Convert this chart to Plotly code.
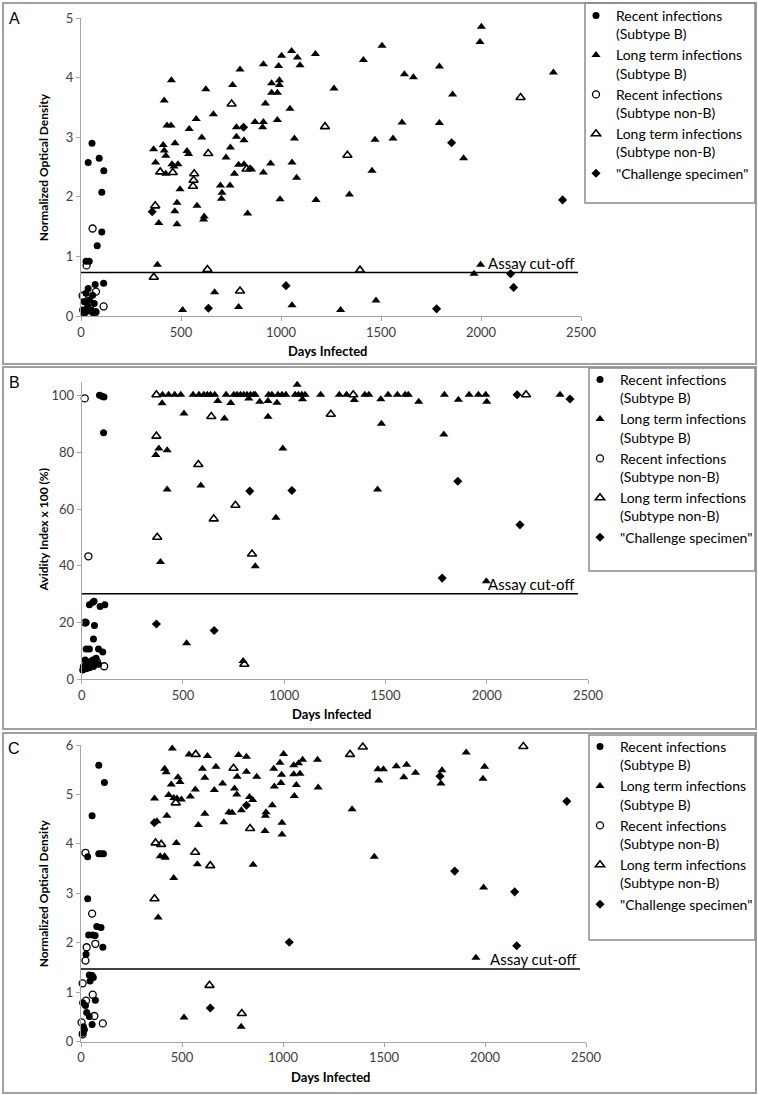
import plotly.graph_objects as go

W, H = 758, 1095

# ---------------- Panel A : Normalized Optical Density ----------------
a_recent_b_days = [55, 36, 91, 114, 104, 104, 81, 25, 41, 113, 71, 36, 25, 58, 41, 17, 66, 33, 8, 50, 25, 75, 17, 58]
a_recent_b_vals = [2.90, 2.58, 2.65, 2.44, 2.08, 1.41, 1.18, 0.92, 0.92, 0.55, 0.53, 0.46, 0.38, 0.35, 0.27, 0.24, 0.21, 0.16, 0.10, 0.10, 0.07, 0.07, 0.04, 0.06]

a_long_b_days = [452, 624, 416, 430, 450, 576, 541, 604, 363, 411, 470, 416, 424, 530, 538, 373, 455, 485, 465, 424,
                 495, 480, 580, 469, 616, 613, 389, 480, 382, 508,
                 758, 795, 912, 1003, 988, 1053, 1082, 1095, 1172, 953, 992, 992, 953, 982, 922, 1045, 1265, 662, 870, 912,
                 908, 982, 777, 777, 815, 1067, 747, 725, 788, 815, 845, 853, 948, 1055, 912, 767, 1078, 697, 745, 705,
                 702, 995, 1175, 1342, 833, 1470, 1560, 1455, 1412, 1505, 668, 788, 1055, 1298, 1475,
                 2002, 1995, 1617, 1662, 1792, 1858, 2362, 1605, 1792, 1913, 1998, 1965]
a_long_b_vals = [3.96, 3.81, 3.62, 3.20, 3.20, 3.31, 3.14, 3.00, 2.80, 2.87, 2.90, 2.78, 2.69, 2.77, 2.72, 2.58, 2.55, 2.55, 2.51, 2.39,
                 2.13, 1.90, 1.85, 1.76, 1.67, 1.62, 1.56, 1.54, 0.86, 0.10,
                 3.88, 4.14, 4.23, 4.37, 4.20, 4.45, 4.34, 4.21, 4.40, 3.91, 3.96, 3.88, 3.75, 3.75, 3.57, 3.48, 3.82, 3.39, 3.26, 3.26,
                 3.17, 3.29, 3.17, 3.01, 2.95, 2.98, 2.83, 2.66, 2.54, 2.55, 2.48, 2.46, 2.56, 2.58, 2.41, 2.39, 2.32, 2.19, 2.19, 2.07,
                 1.97, 1.96, 1.95, 2.04, 1.72, 2.96, 2.98, 2.44, 4.30, 4.54, 0.40, 0.15, 0.18, 0.10, 0.26,
                 4.86, 4.60, 4.06, 4.01, 4.19, 3.72, 4.09, 3.25, 3.24, 2.65, 0.86, 0.71]

a_recent_nb_days = [58, 28, 75, 8, 113, 71, 41, 45]
a_recent_nb_vals = [1.47, 0.85, 0.41, 0.34, 0.16, 0.06, 0.24, 0.16]

a_long_nb_days = [396, 459, 566, 563, 560, 371, 364, 632, 636, 753, 1220, 1332, 828, 1395, 795, 2198]
a_long_nb_vals = [2.42, 2.41, 2.39, 2.28, 2.18, 1.85, 0.65, 0.78, 2.73, 3.56, 3.18, 2.70, 2.47, 0.77, 0.42, 3.67]

a_chall_days = [356, 637, 813, 1025, 1853, 2408, 2148, 2163, 1778]
a_chall_vals = [1.75, 0.13, 3.17, 0.51, 2.91, 1.95, 0.71, 0.48, 0.12]

a_cutoff = 0.73

# ---------------- Panel B : Avidity Index ----------------
b_recent_b_days = [88, 100, 110, 108, 55, 61, 38, 91, 114, 22, 63, 58, 22, 38, 83, 104, 17, 33, 55, 71, 8, 25, 45, 66, 83, 5, 22, 38, 58]
b_recent_b_vals = [100.2, 99.9, 99.6, 87.0, 27.2, 27.5, 26.3, 25.7, 26.3, 20.0, 19.0, 14.2, 10.7, 10.7, 10.7, 9.6, 6.8, 6.2, 6.8, 7.4,
                   4.5, 5.1, 5.1, 5.7, 5.3, 3.3, 3.7, 4.1, 4.5]

b_long_b_days = [397, 505, 381, 422, 366, 422, 588, 389, 518,
                 399, 429, 459, 489, 550, 579, 603, 620, 636, 657,
                 713, 751, 767, 784, 800, 816, 833, 849, 857, 923, 939, 969, 989, 1008, 1054, 1070, 1087, 1103, 1180, 1272,
                 1308, 1398, 1418, 1513,
                 672, 736, 825, 879, 920, 964, 1064, 1090, 1346, 1477, 705, 920, 1480, 993, 1461, 959, 857, 797,
                 1559, 1597, 1613, 1791, 1913, 1959, 1995, 2362, 1664, 1860, 2000, 1788, 1998]
b_long_b_vals = [97.4, 93.8, 81.4, 80.8, 79.1, 67.0, 68.4, 41.4, 12.7,
                 100.4, 100.4, 100.4, 100.4, 100.4, 100.4, 100.4, 100.4, 100.4, 100.4,
                 100.4, 100.4, 100.4, 100.4, 100.4, 100.4, 100.4, 100.4, 100.4, 100.4, 100.4, 100.4, 100.4, 100.4, 100.4, 100.4, 100.4, 100.4, 100.4, 100.4,
                 100.4, 100.4, 100.4, 100.4,
                 98.2, 97.5, 99.1, 97.9, 98.2, 97.6, 103.9, 98.8, 98.5, 98.8, 92.0, 92.6, 90.2, 81.4, 67.0, 57.0, 39.9, 6.5,
                 100.4, 100.4, 100.4, 100.4, 100.4, 100.4, 100.4, 100.4, 97.9, 98.6, 97.9, 86.4, 34.6]

b_recent_nb_days = [15, 33, 111, 17, 75]
b_recent_nb_vals = [99.1, 43.4, 4.6, 20.0, 6.2]

b_long_nb_days = [369, 369, 576, 373, 640, 1230, 759, 652, 841, 803, 1341, 2194]
b_long_nb_vals = [100.4, 85.8, 75.8, 50.1, 92.7, 93.5, 61.4, 56.6, 44.2, 5.3, 100.4, 100.4]

b_chall_days = [369, 830, 1038, 654, 2150, 2411, 1857, 2164, 1780]
b_chall_vals = [19.5, 66.4, 66.6, 17.2, 100.4, 98.9, 69.9, 54.5, 35.7]

b_cutoff = 30.2

# ---------------- Panel C : Normalized Optical Density ----------------
c_recent_b_days = [88, 116, 55, 33, 88, 99, 111, 33, 38, 58, 70, 78, 99, 108, 25, 41, 55, 61, 45, 71, 8, 22, 28, 41, 55, 12, 17, 8]
c_recent_b_vals = [5.59, 5.24, 4.57, 3.74, 3.80, 3.80, 3.80, 2.89, 2.16, 2.16, 2.15, 2.33, 2.31, 1.91, 1.77, 1.35, 1.34, 1.30, 1.23,
                   0.84, 0.79, 0.73, 0.59, 0.51, 0.35, 0.30, 0.24, 0.17]

c_long_b_days = [452, 535, 626, 414, 422, 480, 490, 447, 601, 613, 364, 434, 459, 475, 497, 541, 566, 613, 425, 581, 376,
                 472, 392, 414, 417, 576, 459, 382, 510,
                 668, 780, 819, 773, 819, 870, 760, 771, 834, 850, 701, 660, 794, 732, 748, 707, 916, 913, 911, 947, 957,
                 954, 985, 1003, 993, 990, 995, 995, 1053, 1077, 1097, 1053, 1084, 1066, 1056, 1171, 1174, 1342, 852,
                 1470, 1497, 1474, 1561, 1452, 793,
                 1612, 1598, 1656, 1787, 1782, 1907, 1998, 1990, 1993, 1955]
c_long_b_vals = [5.93, 5.81, 5.78, 5.52, 5.45, 5.35, 5.25, 5.20, 5.52, 5.34, 4.92, 4.99, 4.93, 4.92, 4.90, 4.96, 5.10, 4.61, 4.57, 4.38, 4.46,
                 4.02, 3.75, 3.75, 3.72, 3.59, 3.31, 2.51, 0.49,
                 5.56, 5.80, 5.76, 5.36, 5.46, 5.36, 5.12, 5.00, 4.95, 4.89, 5.22, 5.09, 4.68, 4.64, 4.63, 4.44, 4.64, 4.57, 4.26, 4.78, 5.16,
                 5.52, 5.64, 5.82, 5.40, 5.23, 4.43, 4.19, 5.59, 5.63, 5.70, 5.41, 5.42, 5.19, 4.97, 5.70, 5.14, 4.70, 3.58,
                 5.51, 5.51, 5.28, 5.57, 3.74, 0.30,
                 5.60, 5.35, 5.44, 5.49, 5.22, 5.85, 5.56, 5.32, 3.12, 1.70]

c_recent_nb_days = [22, 55, 71, 28, 22, 8, 58, 25, 66, 108, 3, 8]
c_recent_nb_vals = [3.82, 2.59, 1.98, 1.91, 1.64, 1.18, 0.95, 0.83, 0.52, 0.37, 0.39, 0.15]

c_long_nb_days = [568, 469, 369, 397, 565, 640, 364, 636, 755, 837, 1332, 1395, 796, 2190]
c_long_nb_vals = [5.81, 4.83, 4.02, 3.99, 3.83, 3.56, 2.89, 1.14, 5.53, 4.31, 5.81, 5.96, 0.57, 5.97]

c_chall_days = [363, 640, 819, 1031, 1777, 2405, 1850, 2147, 2157]
c_chall_vals = [4.43, 0.68, 4.78, 2.01, 5.37, 4.86, 3.45, 3.03, 1.94]

c_cutoff = 1.47

# ---------------- Labels ----------------
series_names = ["Recent infections<br>(Subtype B)", "Long term infections<br>(Subtype B)",
                "Recent infections<br>(Subtype non-B)", "Long term infections<br>(Subtype non-B)",
                "\"Challenge specimen\""]
panel_letters = ["A", "B", "C"]
y_titles = ["Normalized Optical Density", "Avidity Index x 100 (%)", "Normalized Optical Density"]
x_title = "Days Infected"
cutoff_label = "Assay cut-off"
x_ticks = [0, 500, 1000, 1500, 2000, 2500]
a_y_ticks = [0, 1, 2, 3, 4, 5]
b_y_ticks = [0, 20, 40, 60, 80, 100]
c_y_ticks = [0, 1, 2, 3, 4, 5, 6]

# ---------------- Styling / layout helpers ----------------
FONT = "Lato"
def px(x):
    return x / W
def py(y):
    return 1 - y / H

styles = [
    dict(symbol="circle", size=7, color="black", line=dict(width=0)),
    dict(symbol="triangle-up", size=8, color="black", line=dict(width=0)),
    dict(symbol="circle-open", size=7, color="black", line=dict(width=1.3, color="black")),
    dict(symbol="triangle-up-open", size=8, color="black", line=dict(width=1.6, color="black")),
    dict(symbol="diamond", size=7, color="black", line=dict(width=0)),
]

panels = [
    dict(data=[(a_recent_b_days, a_recent_b_vals), (a_long_b_days, a_long_b_vals), (a_recent_nb_days, a_recent_nb_vals),
               (a_long_nb_days, a_long_nb_vals), (a_chall_days, a_chall_vals)],
         cutoff=a_cutoff, cut_end=2485, yticks=a_y_ticks, yrange=[0, 5],
         xpx=(81, 581), ypx=(18.3, 316), box=(3, 3, 756, 364), legbox=(585, 3, 755, 203), legtop=0),
    dict(data=[(b_recent_b_days, b_recent_b_vals), (b_long_b_days, b_long_b_vals), (b_recent_nb_days, b_recent_nb_vals),
               (b_long_nb_days, b_long_nb_vals), (b_chall_days, b_chall_vals)],
         cutoff=b_cutoff, cut_end=2450, yticks=b_y_ticks, yrange=[0, 105],
         xpx=(81.7, 588), ypx=(381.7, 679.3), box=(3, 367, 756, 729), legbox=(589, 368, 755, 571), legtop=364),
    dict(data=[(c_recent_b_days, c_recent_b_vals), (c_long_b_days, c_long_b_vals), (c_recent_nb_days, c_recent_nb_vals),
               (c_long_nb_days, c_long_nb_vals), (c_chall_days, c_chall_vals)],
         cutoff=c_cutoff, cut_end=2470, yticks=c_y_ticks, yrange=[0, 6],
         xpx=(81, 586), ypx=(745, 1041.7), box=(3, 733, 756, 1093), legbox=(589, 735, 755, 940), legtop=731),
]

fig = go.Figure()
shapes = []
annotations = []
AXCOL = "#a6a6a6"
TXT = "#404040"

for i, p in enumerate(panels):
    suf = "" if i == 0 else str(i + 1)
    xa, ya = "x" + suf, "y" + suf
    leg = "legend" if i == 0 else "legend" + str(i + 1)
    for k, (dd, vv) in enumerate(p["data"]):
        st = styles[k]
        fig.add_trace(go.Scatter(
            x=dd, y=vv, mode="markers", name=series_names[k], xaxis=xa, yaxis=ya,
            legend=leg, cliponaxis=False,
            marker=dict(symbol=st["symbol"], size=st["size"], color=st["color"], line=st["line"]),
            hoverinfo="x+y"))
    # cut-off line
    fig.add_trace(go.Scatter(x=[0, p["cut_end"]], y=[p["cutoff"], p["cutoff"]], mode="lines",
                             xaxis=xa, yaxis=ya, showlegend=False, cliponaxis=False,
                             line=dict(color="black", width=1.5), hoverinfo="skip"))
    annotations.append(dict(x=p["cut_end"] - 10, y=p["cutoff"], xref=xa, yref=ya, text=cutoff_label,
                            showarrow=False, xanchor="right", yanchor="bottom", yshift=-1,
                            font=dict(family=FONT, size=15, color="black")))
    x0, x1 = p["xpx"]
    yt, yb = p["ypx"]
    axis_common = dict(showline=True, linecolor=AXCOL, linewidth=1, ticks="outside", ticklen=4,
                       tickcolor=AXCOL, showgrid=False, zeroline=False, automargin=False,
                       tickfont=dict(family=FONT, size=13, color=TXT))
    fig.layout["xaxis" + suf] = dict(domain=[px(x0), px(x1)], anchor=ya, range=[0, 2500],
                                     tickvals=x_ticks, **axis_common)
    fig.layout["yaxis" + suf] = dict(domain=[py(yb), py(yt)], anchor=xa, range=p["yrange"],
                                     tickvals=p["yticks"], **axis_common)
    # panel and legend boxes
    bx0, by0, bx1, by1 = p["box"]
    shapes.append(dict(type="rect", xref="paper", yref="paper", x0=px(bx0), x1=px(bx1), y0=py(by1), y1=py(by0),
                       line=dict(color="#a0a0a0", width=2)))
    lx0, ly0, lx1, ly1 = p["legbox"]
    shapes.append(dict(type="rect", xref="paper", yref="paper", x0=px(lx0), x1=px(lx1), y0=py(ly1), y1=py(ly0),
                       line=dict(color="#8c8c8c", width=1.5)))
    fig.layout[leg] = dict(x=px(lx0 - 9), y=py(p["legtop"]), xref="container", yref="container",
                           xanchor="left", yanchor="top",
                           bgcolor="rgba(0,0,0,0)", borderwidth=0, valign="top",
                           font=dict(family=FONT, size=14, color="black"),
                           tracegroupgap=0, itemsizing="trace")
    # panel letter
    annotations.append(dict(x=px(14), y=py(by0 + 15), xref="paper", yref="paper", text=panel_letters[i],
                            showarrow=False, xanchor="center", yanchor="middle",
                            font=dict(family="Liberation Sans", size=16, color="black")))
    # axis titles
    annotations.append(dict(x=px(43), y=py((yt + yb) / 2), xref="paper", yref="paper", text="<b>" + y_titles[i] + "</b>",
                            showarrow=False, textangle=-90, xanchor="center", yanchor="middle",
                            font=dict(family=FONT, size=12, color="black")))
    annotations.append(dict(x=px((x0 + x1) / 2 - 3), y=py(yb + 35), xref="paper", yref="paper", text="<b>" + x_title + "</b>",
                            showarrow=False, xanchor="center", yanchor="middle",
                            font=dict(family=FONT, size=13, color="black")))

fig.update_layout(width=W, height=H, margin=dict(l=0, r=0, t=0, b=0, autoexpand=False),
                  paper_bgcolor="white", plot_bgcolor="white",
                  shapes=shapes, annotations=annotations, showlegend=True)

fig.write_html("out.html", config={"displayModeBar": False},
               post_script="document.body.style.margin='0';document.body.style.padding='0';")
